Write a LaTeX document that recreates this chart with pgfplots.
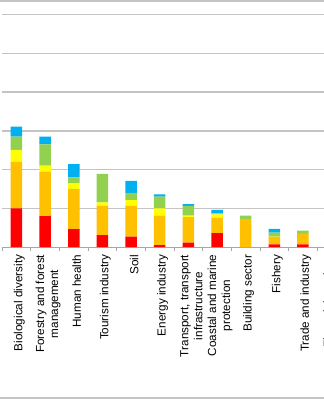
\documentclass[border=0pt]{standalone}
\usepackage{pgfplots}
\usepackage{pgfplotstable}
\pgfplotsset{compat=1.18}
\usepackage{fontspec}
\setmainfont{Liberation Sans}
\definecolor{cred}{HTML}{FF0000}
\definecolor{corange}{HTML}{FFC000}
\definecolor{cyellow}{HTML}{FFFF00}
\definecolor{cgreen}{HTML}{92D050}
\definecolor{cblue}{HTML}{00B0F0}
\definecolor{cgrid}{HTML}{C4C4C4}
\definecolor{caxis}{HTML}{A6A6A6}
\pgfplotstableread{
x  red  orange yellow green blue
0  10.0 12.0   3.1    3.4   2.6
1  8.0  11.5   1.5    5.5   2.0
2  4.6  10.4   1.5    1.5   3.4
3  3.1  7.6    0.8    7.4   0.0
4  2.7  7.9    1.5    1.9   3.1
5  0.5  7.6    1.9    3.0   0.6
6  1.1  6.6    0.4    2.5   0.5
7  3.6  4.0    0.8    0.3   0.9
8  0.0  7.2    0.0    0.9   0.0
9  0.7  1.9    0.1    1.0   1.0
10 0.7  2.6    0.1    0.8   0.0
11 0.4  1.5    0.0    0.5   0.0
}\data
\begin{document}
\begin{tikzpicture}
\path[use as bounding box] (0,0) rectangle (324pt,400pt);
\fill[white] (0,0) rectangle (324pt,400pt);
\clip (0,0) rectangle (324pt,400pt);
\begin{axis}[
  at={(2.15pt,153pt)}, anchor=south west,
  scale only axis, width=343.8pt, height=271pt,
  xmin=-0.5, xmax=11.5, ymin=0, ymax=70,
  ybar stacked, bar width=11.5pt,
  axis x line*=bottom, axis y line*=left,
  x axis line style={-, draw=caxis, line width=1pt},
  y axis line style={draw=none},
  ytick={10,20,...,60}, yticklabels={},
  ytick style={draw=none},
  ymajorgrids, major grid style={draw=cgrid, line width=1.3pt},
  xtick={0,...,11},
  major x tick style={draw=none},
  minor xtick={-0.5,0.5,...,11.5},
  minor x tick style={draw=caxis, line width=0.8pt},
  minor tick length=4pt, tick align=outside,
  xticklabels={Biological diversity, {Forestry and forest\\management}, Human health, Tourism industry, Soil, Energy industry, {Transport, transport\\infrastructure}, {Coastal and marine\\protection}, Building sector, Fishery, Trade and industry, {Financial services\\and insurance}},
  xticklabel style={font=\fontsize{11.7}{14}\selectfont, rotate=90, anchor=east, align=center, text=black, yshift=-3pt},
  clip=false,
]
\addplot[fill=cred, draw=none] table[x=x,y=red]{\data};
\addplot[fill=corange, draw=none] table[x=x,y=orange]{\data};
\addplot[fill=cyellow, draw=none] table[x=x,y=yellow]{\data};
\addplot[fill=cgreen, draw=none] table[x=x,y=green]{\data};
\addplot[fill=cblue, draw=none] table[x=x,y=blue]{\data};
\end{axis}
\draw[cgrid, line width=1.3pt] (0,399pt) -- (324pt,399pt);
\draw[cgrid, line width=1.3pt] (0,2pt) -- (324pt,2pt);
\end{tikzpicture}
\end{document}
